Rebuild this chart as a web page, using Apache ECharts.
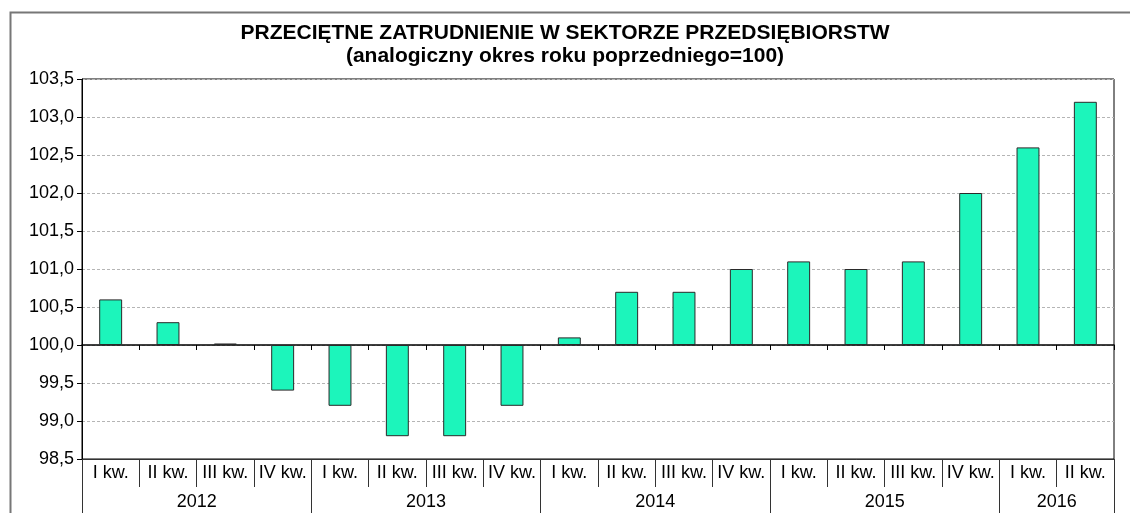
<!DOCTYPE html>
<html>
<head>
<meta charset="utf-8">
<title>Przeciętne zatrudnienie</title>
<script src="https://cdn.jsdelivr.net/npm/echarts@6/dist/echarts.min.js"></script>
<style>
  html, body { margin: 0; padding: 0; background: #fff; }
  #chart { width: 1130px; height: 513px; }
</style>
</head>
<body>
<div id="chart"></div>
<script>
// dane: kwartały, lata i wskaźnik (analogiczny okres roku poprzedniego = 100)
const quarters = ['I kw.', 'II kw.', 'III kw.', 'IV kw.', 'I kw.', 'II kw.', 'III kw.', 'IV kw.',
  'I kw.', 'II kw.', 'III kw.', 'IV kw.', 'I kw.', 'II kw.', 'III kw.', 'IV kw.', 'I kw.', 'II kw.'];
const years = ['2012', '2013', '2014', '2015', '2016'];
const yearQuarters = [4, 4, 4, 4, 2];
const values = [100.6, 100.3, 100.02, 99.4, 99.2, 98.8, 98.8, 99.2,
  100.1, 100.7, 100.7, 101.0, 101.1, 101.0, 101.1, 102.0, 102.6, 103.2];
const base = 100;
const yTicks = [98.5, 99.0, 99.5, 100.0, 100.5, 101.0, 101.5, 102.0, 102.5, 103.0, 103.5];

// słupki rysowane względem poziomu 100
const diffs = values.map(v => +(v - base).toFixed(2));

// oś lat: punkty na granicach kwartałów, etykieta w środku każdego roku
const yearPoints = new Array(quarters.length + 1).fill('');
const yearEdges = [0];
let pos = 0;
years.forEach((y, i) => {
  yearPoints[pos + yearQuarters[i] / 2] = y;
  pos += yearQuarters[i];
  yearEdges.push(pos);
});

const font = 'Liberation Sans, Arial, sans-serif';
const fmt = v => (v + base).toFixed(1).replace('.', ',');

let myChart = echarts.init(document.getElementById('chart'));
myChart.setOption({
  animation: false,
  title: {
    text: 'PRZECIĘTNE ZATRUDNIENIE W SEKTORZE PRZEDSIĘBIORSTW\n(analogiczny okres roku poprzedniego=100)',
    left: 'center',
    top: 17,
    textStyle: { fontFamily: font, fontSize: 21, fontWeight: 'bold', color: '#000', lineHeight: 23 }
  },
  graphic: [{
    type: 'rect',
    left: 8, top: 10,
    shape: { width: 1140, height: 600 },
    style: { fill: 'none', stroke: '#777', lineWidth: 2 },
    silent: true
  }],
  grid: {
    left: 82, top: 79, right: 16, bottom: 54,
    show: true, borderColor: '#000', borderWidth: 1
  },
  yAxis: {
    type: 'value',
    min: yTicks[0] - base,
    max: yTicks[yTicks.length - 1] - base,
    interval: 0.5,
    axisLine: { show: true, lineStyle: { color: '#000' } },
    axisTick: { show: true, length: 5, lineStyle: { color: '#000' } },
    axisLabel: { formatter: fmt, fontFamily: font, fontSize: 18, color: '#000', margin: 8 },
    splitLine: { lineStyle: { color: '#b5b5b5', type: [3, 2] } }
  },
  xAxis: [{
    // oś na poziomie 100
    type: 'category',
    data: quarters,
    axisLine: { onZero: true, lineStyle: { color: '#000', width: 1.5 } },
    axisTick: { show: true, interval: 0, length: 5, lineStyle: { color: '#000' } },
    axisLabel: { show: false }
  }, {
    // etykiety kwartałów
    type: 'category',
    data: quarters,
    position: 'bottom',
    axisLine: { onZero: false, lineStyle: { color: '#333' } },
    axisTick: { show: true, interval: 0, length: 28, lineStyle: { color: '#333' } },
    axisLabel: { interval: 0, fontFamily: font, fontSize: 18, color: '#000', margin: 5 }
  }, {
    // etykiety lat
    type: 'category',
    data: yearPoints,
    boundaryGap: false,
    position: 'bottom',
    axisLine: { onZero: false, show: false },
    axisTick: {
      show: true,
      length: 70,
      interval: (i) => yearEdges.indexOf(i) >= 0,
      lineStyle: { color: '#333' }
    },
    axisLabel: { interval: 0, fontFamily: font, fontSize: 18, color: '#000', margin: 34 }
  }],
  series: [{
    type: 'bar',
    xAxisIndex: 0,
    data: diffs,
    barWidth: '40%',
    itemStyle: { color: '#1cf5bb', borderColor: '#2a2a2a', borderWidth: 1 }
  }]
});
</script>
</body>
</html>
